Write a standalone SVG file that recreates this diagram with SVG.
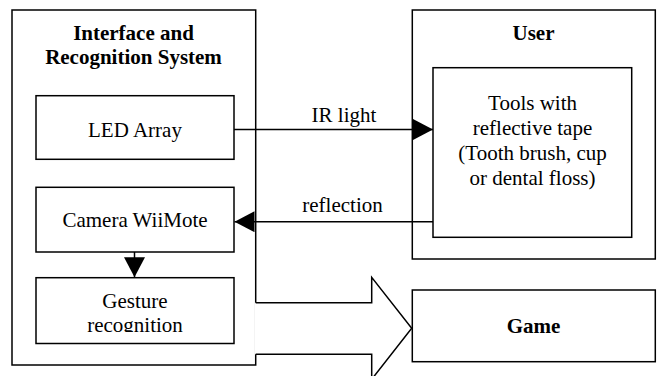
<svg xmlns="http://www.w3.org/2000/svg" width="657" height="376" viewBox="0 0 657 376">
<style>
.box{fill:#fff;stroke:#000;stroke-width:1.5}
.ln{fill:none;stroke:#000;stroke-width:1.5}
text{font-family:'Liberation Serif','Times New Roman',Times,'DejaVu Serif',serif;font-size:21px;fill:#000;text-anchor:middle}
.b{font-weight:bold}
</style>
<defs>
<marker id="ah" markerUnits="userSpaceOnUse" markerWidth="20" markerHeight="21" refX="20" refY="10.5" orient="auto" viewBox="0 0 20 21">
<path d="M0,0 L20,10.5 L0,21 Z" fill="#000"/>
</marker>
<clipPath id="gclip"><rect x="36" y="277" width="198" height="55"/></clipPath>
</defs>
<g id="interface-system">
<rect class="box" x="12" y="10" width="243.7" height="355"/>
<text class="b" x="133.5" y="40">Interface and</text>
<text class="b" x="133.5" y="64">Recognition System</text>
</g>
<g id="led-array">
<rect class="box" x="36" y="95.7" width="198" height="63.6"/>
<text x="135" y="136.5">LED Array</text>
</g>
<g id="camera">
<rect class="box" x="36" y="187.3" width="198" height="64.7"/>
<text x="135" y="226.5">Camera WiiMote</text>
</g>
<g id="gesture">
<rect class="box" x="36" y="277.7" width="198" height="65.8"/>
<text x="135" y="308.3">Gesture</text>
<text x="135" y="331.7" clip-path="url(#gclip)">recognition</text>
</g>
<g id="user">
<rect class="box" x="412.3" y="10" width="243" height="249"/>
<text class="b" x="533.5" y="39.5">User</text>
</g>
<g id="tools">
<rect class="box" x="433" y="67.7" width="198.7" height="169.6"/>
<text x="532.5" y="110">Tools with</text>
<text x="532.5" y="135">reflective tape</text>
<text x="532.5" y="160">(Tooth brush, cup</text>
<text x="532.5" y="185">or dental floss)</text>
</g>
<g id="game">
<rect class="box" x="412.3" y="290" width="243" height="71.7"/>
<text class="b" x="533.5" y="333.3">Game</text>
</g>
<g id="connectors">
<line class="ln" x1="234" y1="129.5" x2="433" y2="129.5" marker-end="url(#ah)"/>
<text x="344" y="121.7">IR light</text>
<line class="ln" x1="433" y1="221.7" x2="234.5" y2="221.7" marker-end="url(#ah)"/>
<text x="342.5" y="212.3">reflection</text>
<line class="ln" x1="134.5" y1="252" x2="134.5" y2="277.2" marker-end="url(#ah)"/>
<path d="M254.9,302.7 L371.7,302.7 L371.7,277.3 L411.7,328.3 L371.7,379.3 L371.7,354.3 L254.9,354.3 Z" fill="#fff" stroke="none"/>
<path class="ln" d="M255.7,302.7 L371.7,302.7 L371.7,277.3 L411.7,328.3 L371.7,379.3 L371.7,354.3 L255.7,354.3"/>
</g>
</svg>
